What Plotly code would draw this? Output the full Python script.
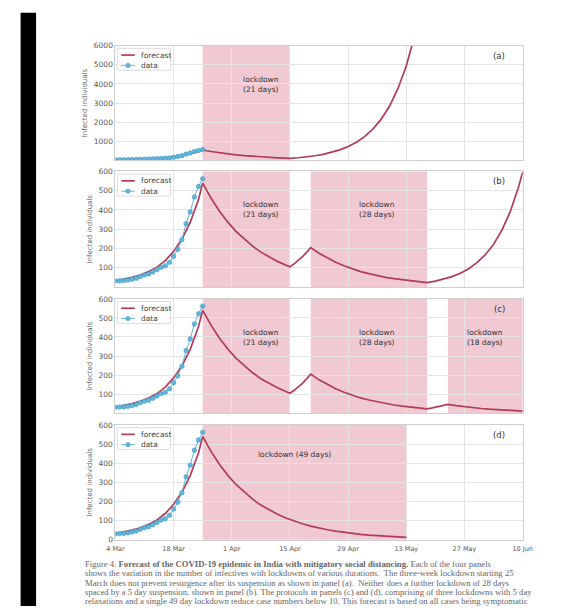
import plotly.graph_objects as go
import pandas as pd

START = pd.Timestamp("2020-03-04")

# observed data (days after 4 Mar, infected)
data_day = list(range(22))
data_vals = [31, 32, 33, 36, 40, 45, 55, 63, 68, 78, 90, 103, 110, 128, 160, 196, 246, 329, 390, 468, 522, 562]

# forecast pieces (days after 4 Mar)
pre_day = [0, 2, 4, 6, 8, 10, 12, 14, 16, 18, 20, 21]
pre_vals = [32, 40, 50, 62, 80, 103, 137, 185, 248, 335, 455, 540]

lock1_day = [23, 25, 27, 29, 31, 33, 35, 37, 39, 41, 42]
lock1_vals = [462, 395, 338, 289, 248, 212, 181, 155, 133, 113.5, 105]

a_post_day = [44, 46, 48, 50, 52, 54, 56, 58, 60, 62, 64, 66, 68, 70, 72]
a_post_vals = [138, 182, 240, 316, 416, 548, 721, 950, 1251, 1647, 2169, 2856, 3761, 4953, 6521]

gap1_day = [43, 44, 45, 46, 47]
gap1_vals = [120, 137, 157, 180, 205]

lock2_day = [49, 51, 53, 55, 57, 59, 61, 63, 65, 67, 69, 71, 73, 75]
lock2_vals = [175, 150, 128, 110, 94, 80, 69, 59, 50, 43, 37, 32, 27, 23]

b_post_day = [77, 79, 81, 83, 85, 87, 89, 91, 93, 95, 97, 98]
b_post_vals = [30.6, 40.7, 54, 71.6, 95, 126, 167.5, 222, 295, 391, 519, 598]

gap2_day = [76, 77, 78, 79, 80]
gap2_vals = [26.5, 30.4, 34.9, 40, 46]

lock3_day = [82, 84, 86, 88, 90, 92, 94, 96, 98]
lock3_vals = [39.4, 33.7, 28.8, 24.6, 21.1, 18, 15.4, 13.2, 11.3]

d_lock_day = [23, 25, 27, 29, 31, 33, 35, 37, 39, 41, 43, 45, 47, 49, 51, 53, 55, 57, 59, 61, 63, 65, 67, 69, 70]
d_lock_vals = [462, 395, 338, 289, 248, 212, 181, 155, 133, 113.5, 97.1, 83.1, 71.1, 60.8, 52, 44.5, 38.1,
               32.6, 27.9, 23.8, 20.4, 17.5, 14.9, 12.8, 11.8]

panel_labels = ["(a)", "(b)", "(c)", "(d)"]
legend_names = ["forecast", "data"]
lockdowns = {
    "a": [("2020-03-25", "2020-04-15")],
    "b": [("2020-03-25", "2020-04-15"), ("2020-04-20", "2020-05-18")],
    "c": [("2020-03-25", "2020-04-15"), ("2020-04-20", "2020-05-18"), ("2020-05-23", "2020-06-10")],
    "d": [("2020-03-25", "2020-05-13")],
}
lock_texts = {
    "a": [("2020-04-08", "lockdown<br>(21 days)")],
    "b": [("2020-04-08", "lockdown<br>(21 days)"), ("2020-05-06", "lockdown<br>(28 days)")],
    "c": [("2020-04-08", "lockdown<br>(21 days)"), ("2020-05-06", "lockdown<br>(28 days)"),
          ("2020-06-01", "lockdown<br>(18 days)")],
    "d": [("2020-04-16", "lockdown (49 days)")],
}
tick_dates = ["2020-03-04", "2020-03-18", "2020-04-01", "2020-04-15", "2020-04-29", "2020-05-13", "2020-05-27", "2020-06-10"]
tick_text = ["4 Mar", "18 Mar", "1 Apr", "15 Apr", "29 Apr", "13 May", "27 May", "10 Jun"]
y_ticks = {
    "a": [1000, 2000, 3000, 4000, 5000, 6000],
    "b": [100, 200, 300, 400, 500, 600],
    "c": [100, 200, 300, 400, 500, 600],
    "d": [0, 100, 200, 300, 400, 500, 600],
}
y_max = {"a": 6000, "b": 600, "c": 600, "d": 600}

caption_lines = [
    "Figure 4. <b>Forecast of the COVID-19 epidemic in India with mitigatory social distancing.</b> Each of the four panels",
    "shows the variation in the number of infectives with lockdowns of various durations.  The three-week lockdown starting 25",
    "March does not prevent resurgence after its suspension as shown in panel (a).  Neither does a further lockdown of 28 days",
    "spaced by a 5 day suspension, shown in panel (b). The protocols in panels (c) and (d), comprising of three lockdowns with 5 day",
    "relaxations and a single 49 day lockdown reduce case numbers below 10. This forecast is based on all cases being symptomatic",
]


def to_dates(days):
    return [START + pd.Timedelta(days=d) for d in days]


forecast = {
    "a": (pre_day + lock1_day + a_post_day, pre_vals + lock1_vals + a_post_vals),
    "b": (pre_day + lock1_day + gap1_day + lock2_day + b_post_day,
          pre_vals + lock1_vals + gap1_vals + lock2_vals + b_post_vals),
    "c": (pre_day + lock1_day + gap1_day + lock2_day + gap2_day + lock3_day,
          pre_vals + lock1_vals + gap1_vals + lock2_vals + gap2_vals + lock3_vals),
    "d": (pre_day + d_lock_day, pre_vals + d_lock_vals),
}

W, H = 583, 611
boxes = {"a": (42.3, 158.7), "b": (170, 287.2), "c": (299.3, 415.3), "d": (427.3, 543.7)}
x_left, x_right = 110, 531

RED = "#b03c57"
BLUE = "#62b6dc"
PINK = "#f0c9d3"
GRID = "#e4e4e4"
FRAME = "#cfcfcf"


def px(x):
    return x / W


def py(y):
    return 1 - y / H


fig = go.Figure()
layout = dict(
    width=W, height=H, margin=dict(l=0, r=0, t=0, b=0),
    paper_bgcolor="white", plot_bgcolor="white",
    font=dict(family="DejaVu Sans", color="#444", size=7),
    shapes=[], annotations=[], showlegend=False,
)

keys = ["a", "b", "c", "d"]
for i, k in enumerate(keys):
    n = "" if i == 0 else str(i + 1)
    xa, ya = "x" + n, "y" + n
    top, bot = boxes[k]
    fdays, fvals = forecast[k]
    fig.add_trace(go.Scatter(x=to_dates(fdays), y=fvals, mode="lines", name=legend_names[0],
                             line=dict(color=RED, width=1.7), xaxis=xa, yaxis=ya))
    fig.add_trace(go.Scatter(x=to_dates(data_day), y=data_vals, mode="lines+markers", name=legend_names[1],
                             line=dict(color=BLUE, width=1), marker=dict(color=BLUE, size=4.5,
                             line=dict(color="#3f9cc7", width=0.6)),
                             xaxis=xa, yaxis=ya))
    layout["xaxis" + n] = dict(
        domain=[px(x_left), px(x_right)], anchor=ya,
        range=["2020-03-04", "2020-06-10"], type="date",
        tickvals=tick_dates, ticktext=tick_text, showticklabels=(k == "d"),
        tickfont=dict(size=6.5, color="#555"), ticks="", ticklabelstandoff=3,
        showgrid=True, gridcolor=GRID, gridwidth=1,
        showline=True, linecolor=FRAME, linewidth=1, mirror=True, zeroline=False,
    )
    layout["yaxis" + n] = dict(
        domain=[py(bot), py(top)], anchor=xa,
        range=[0, y_max[k]], tickvals=y_ticks[k],
        tickfont=dict(size=7.5, color="#555"), ticks="",
        showgrid=True, gridcolor=GRID, gridwidth=1,
        showline=True, linecolor=FRAME, linewidth=1, mirror=True, zeroline=False,
        title=dict(text="Infected individuals", font=dict(size=7, color="#666"), standoff=5),
    )
    # legend box (drawn like the matplotlib legend in the panel's upper-left corner)
    layout["shapes"].append(dict(type="rect", xref="paper", yref="paper",
                                 x0=px(112), x1=px(167), y0=py(top + 25), y1=py(top + 2.7),
                                 fillcolor="rgba(255,255,255,0.85)", line=dict(color="#dddddd", width=1),
                                 layer="above"))
    y1e, y2e = top + 9.5, top + 20
    layout["shapes"].append(dict(type="line", xref="paper", yref="paper", x0=px(116), x1=px(130),
                                 y0=py(y1e), y1=py(y1e), line=dict(color=RED, width=1.7), layer="above"))
    layout["shapes"].append(dict(type="line", xref="paper", yref="paper", x0=px(116), x1=px(130),
                                 y0=py(y2e), y1=py(y2e), line=dict(color=BLUE, width=1), layer="above"))
    layout["shapes"].append(dict(type="circle", xref="paper", yref="paper", x0=px(120.8), x1=px(125.2),
                                 y0=py(y2e + 2.2), y1=py(y2e - 2.2), fillcolor=BLUE,
                                 line=dict(color="#3f9cc7", width=0.6), layer="above"))
    for nm, yy in zip(legend_names, [y1e, y2e]):
        layout["annotations"].append(dict(x=px(134), y=py(yy), xref="paper", yref="paper", text=nm,
                                          showarrow=False, xanchor="left", yanchor="middle",
                                          font=dict(size=7.5, color="#444")))
    for (s, e) in lockdowns[k]:
        layout["shapes"].append(dict(type="rect", xref=xa, yref=ya + " domain", x0=s, x1=e, y0=0, y1=1,
                                     fillcolor=PINK, line=dict(width=0), layer="below"))
    for (dt, txt) in lock_texts[k]:
        layout["annotations"].append(dict(x=dt, y=py(top + (39 if k != "d" else 30)), xref=xa, yref="paper",
                                          text=txt, showarrow=False, font=dict(size=7.5, color="#333"),
                                          xanchor="center", yanchor="middle"))
    layout["annotations"].append(dict(x=px(507), y=py(top + 10), xref="paper", yref="paper",
                                      text=panel_labels[i], showarrow=False,
                                      font=dict(size=8.5, color="#333"), xanchor="center", yanchor="middle"))

# black binding strip on the left of the photographed page
layout["shapes"].append(dict(type="rect", xref="paper", yref="paper", x0=px(12), x1=px(28),
                             y0=0, y1=py(9), fillcolor="black", line=dict(width=0), layer="above"))

for j, line in enumerate(caption_lines):
    layout["annotations"].append(dict(x=px(77), y=py(568 + j * 9.6), xref="paper", yref="paper",
                                      text=line, showarrow=False, xanchor="left", yanchor="middle",
                                      font=dict(family="Liberation Serif", size=8.7, color="#666")))

fig.update_layout(**layout)
fig.write_html("out.html", config={"displayModeBar": False},
               post_script="document.body.style.margin='0';document.body.style.overflow='hidden';")
